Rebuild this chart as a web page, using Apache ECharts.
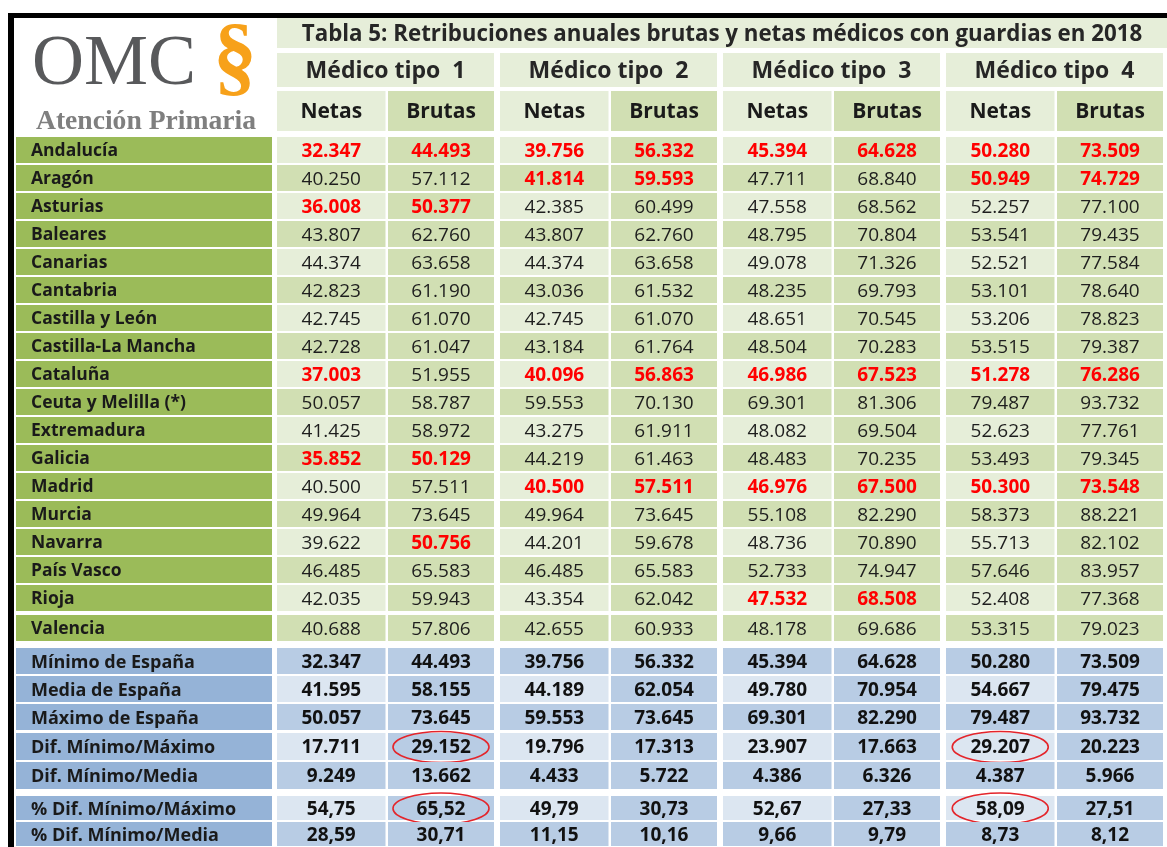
<!DOCTYPE html>
<html><head><meta charset="utf-8">
<script src="https://cdn.jsdelivr.net/npm/echarts@6/dist/echarts.min.js"></script>
<style>html,body{margin:0;padding:0;background:#fff}#chart{width:1167px;height:847px}</style>
</head><body><div id="chart"></div>
<script>
// ---------------- DATA ----------------
const titleText = 'Tabla 5: Retribuciones anuales brutas y netas médicos con guardias en 2018';
const groupLabels = ['Médico tipo  1', 'Médico tipo  2', 'Médico tipo  3', 'Médico tipo  4'];
const subLabels = ['Netas', 'Brutas', 'Netas', 'Brutas', 'Netas', 'Brutas', 'Netas', 'Brutas'];

const regions = ['Andalucía', 'Aragón', 'Asturias', 'Baleares', 'Canarias', 'Cantabria',
  'Castilla y León', 'Castilla-La Mancha', 'Cataluña', 'Ceuta y Melilla (*)', 'Extremadura',
  'Galicia', 'Madrid', 'Murcia', 'Navarra', 'País Vasco', 'Rioja', 'Valencia'];

const netas1 = [32347, 40250, 36008, 43807, 44374, 42823, 42745, 42728, 37003, 50057, 41425, 35852, 40500, 49964, 39622, 46485, 42035, 40688];
const brutas1 = [44493, 57112, 50377, 62760, 63658, 61190, 61070, 61047, 51955, 58787, 58972, 50129, 57511, 73645, 50756, 65583, 59943, 57806];
const netas2 = [39756, 41814, 42385, 43807, 44374, 43036, 42745, 43184, 40096, 59553, 43275, 44219, 40500, 49964, 44201, 46485, 43354, 42655];
const brutas2 = [56332, 59593, 60499, 62760, 63658, 61532, 61070, 61764, 56863, 70130, 61911, 61463, 57511, 73645, 59678, 65583, 62042, 60933];
const netas3 = [45394, 47711, 47558, 48795, 49078, 48235, 48651, 48504, 46986, 69301, 48082, 48483, 46976, 55108, 48736, 52733, 47532, 48178];
const brutas3 = [64628, 68840, 68562, 70804, 71326, 69793, 70545, 70283, 67523, 81306, 69504, 70235, 67500, 82290, 70890, 74947, 68508, 69686];
const netas4 = [50280, 50949, 52257, 53541, 52521, 53101, 53206, 53515, 51278, 79487, 52623, 53493, 50300, 58373, 55713, 57646, 52408, 53315];
const brutas4 = [73509, 74729, 77100, 79435, 77584, 78640, 78823, 79387, 76286, 93732, 77761, 79345, 73548, 88221, 82102, 83957, 77368, 79023];

// columns (0..7) shown in red, per region
const redColumns = {
  'Andalucía': [0, 1, 2, 3, 4, 5, 6, 7],
  'Aragón': [2, 3, 6, 7],
  'Asturias': [0, 1],
  'Cataluña': [0, 2, 3, 4, 5, 6, 7],
  'Galicia': [0, 1],
  'Madrid': [2, 3, 4, 5, 6, 7],
  'Navarra': [1],
  'Rioja': [4, 5]
};

const statLabels = ['Mínimo de España', 'Media de España', 'Máximo de España',
  'Dif. Mínimo/Máximo', 'Dif. Mínimo/Media', '% Dif. Mínimo/Máximo', '% Dif. Mínimo/Media'];
const statMin = [32347, 44493, 39756, 56332, 45394, 64628, 50280, 73509];
const statMean = [41595, 58155, 44189, 62054, 49780, 70954, 54667, 79475];
const statMax = [50057, 73645, 59553, 73645, 69301, 82290, 79487, 93732];
const statDifMinMax = [17711, 29152, 19796, 17313, 23907, 17663, 29207, 20223];
const statDifMinMean = [9249, 13662, 4433, 5722, 4386, 6326, 4387, 5966];
const statPctMinMax = [54.75, 65.52, 49.79, 30.73, 52.67, 27.33, 58.09, 27.51];
const statPctMinMean = [28.59, 30.71, 11.15, 10.16, 9.66, 9.79, 8.73, 8.12];
// circled cells: [stat row, column]
const circledCells = [[3, 1], [5, 1], [3, 6], [5, 6]];

// ---------------- BUILD ----------------
const regionCols = [netas1, brutas1, netas2, brutas2, netas3, brutas3, netas4, brutas4];
const statRows = [statMin, statMean, statMax, statDifMinMax, statDifMinMean, statPctMinMax, statPctMinMean];
const fmtInt = n => String(n).replace(/\B(?=(\d{3})+(?!\d))/g, '.');
const fmtPct = n => n.toFixed(2).replace('.', ',');

const C = {
  greenLab: '#9bbb59', greenLight: '#e6eed9', greenDark: '#d1dfb3',
  blueLab: '#95b3d7', blueLight: '#dce6f1', blueDark: '#b8cce4',
  red: '#ff0000', txt: '#1e1e1e'
};
const FONT = '"Open Sans"';

const DATA_LEFT = 275, DATA_W = 909.6, LAB_LEFT = 16, LAB_W = 258;

const grids = [], xAxes = [], yAxes = [], series = [];
function addGrid(left, width, top, height, xCats, yCats) {
  const i = grids.length;
  grids.push({ left, width, top, height, containLabel: false });
  xAxes.push({ type: 'category', gridIndex: i, data: xCats, show: false, boundaryGap: true });
  yAxes.push({ type: 'category', gridIndex: i, data: yCats, show: false, inverse: true, boundaryGap: true });
  return i;
}
function addCells(gi, items, o) {
  series.push({
    type: 'custom', xAxisIndex: gi, yAxisIndex: gi, silent: true, animation: false,
    data: items.map(d => [d.col, d.row]),
    encode: { x: 0, y: 1 },
    renderItem: function (params, api) {
      const it = items[params.dataIndex];
      const c = api.coord([api.value(0), api.value(1)]);
      const s = api.size([1, 1]);
      const odd = it.col % 2 === 1;
      const insL = o.insL != null ? o.insL : (odd ? 1.5 : 2);
      const insR = o.insR != null ? o.insR : (odd ? 4 : 1);
      const x0 = c[0] - s[0] / 2 + insL, x1 = c[0] + s[0] / 2 - insR;
      const y0 = c[1] - s[1] / 2 + o.insT, y1 = c[1] + s[1] / 2 - o.insB;
      const children = [
        { type: 'rect', shape: { x: x0, y: y0, width: x1 - x0, height: y1 - y0 }, style: { fill: it.fill } },
        { type: 'text', style: {
            text: it.text, x: o.align === 'left' ? x0 + o.padL : (x0 + x1) / 2, y: (y0 + y1) / 2 + 1.5,
            align: o.align || 'center', verticalAlign: 'middle', fill: it.color, font: it.font } }
      ];
      if (it.circle) {
        children.push({ type: 'ellipse', shape: { cx: (x0 + x1) / 2, cy: (y0 + y1) / 2 + 0.5, rx: 48, ry: 15.5 },
          style: { fill: 'none', stroke: '#e4252b', lineWidth: 1.6 } });
      }
      return { type: 'group', children };
    }
  });
}

// header: title
let g = addGrid(DATA_LEFT, DATA_W, 18, 30, ['t'], ['t']);
addCells(g, [{ col: 0, row: 0, text: titleText, fill: C.greenLight, color: '#262626', font: `bold 22.3px ${FONT}` }],
  { insT: 0, insB: 0, insL: 2, insR: 0 });
// header: groups
g = addGrid(DATA_LEFT, DATA_W, 52, 36, groupLabels, ['g']);
addCells(g, groupLabels.map((t, k) => ({ col: k, row: 0, text: t, fill: C.greenLight, color: '#262626', font: `bold 23px ${FONT}` })),
  { insT: 1, insB: 1, insL: 2, insR: 4 });
// header: Netas/Brutas
g = addGrid(DATA_LEFT, DATA_W, 90, 42, subLabels, ['s']);
addCells(g, subLabels.map((t, k) => ({ col: k, row: 0, text: t, fill: k % 2 ? C.greenDark : C.greenLight, color: '#1a1a1a', font: `bold 21px ${FONT}` })),
  { insT: 1, insB: 1 });

// region rows
function regionSection(top, height, idxs) {
  const names = idxs.map(i => regions[i]);
  const gl = addGrid(LAB_LEFT, LAB_W, top, height, ['l'], names);
  addCells(gl, idxs.map((i, r) => ({ col: 0, row: r, text: regions[i], fill: C.greenLab, color: '#1a1a1a', font: `bold 17.5px ${FONT}` })),
    { insT: 1, insB: 1, insL: 0, insR: 2, align: 'left', padL: 15 });
  const gd = addGrid(DATA_LEFT, DATA_W, top, height, subLabels.map((s, k) => s + k), names);
  const items = [];
  idxs.forEach((i, r) => {
    const reds = redColumns[regions[i]] || [];
    regionCols.forEach((col, k) => {
      const isRed = reds.indexOf(k) >= 0;
      items.push({ col: k, row: r, text: fmtInt(col[i]),
        fill: (i % 2 === 0 && k % 2 === 0) ? C.greenLight : C.greenDark,
        color: isRed ? C.red : C.txt, font: `${isRed ? 'bold ' : ''}19px ${FONT}` });
    });
  });
  addCells(gd, items, { insT: 1, insB: 1 });
}
regionSection(136, 476, regions.slice(0, 17).map((_, i) => i));
regionSection(614, 28, [17]);

// stat rows
function statSection(top, height, idxs) {
  const names = idxs.map(i => statLabels[i]);
  const gl = addGrid(LAB_LEFT, LAB_W, top, height, ['l'], names);
  addCells(gl, idxs.map((i, r) => ({ col: 0, row: r, text: statLabels[i], fill: C.blueLab, color: '#1a1a1a', font: `bold 18px ${FONT}` })),
    { insT: 1, insB: 1, insL: 0, insR: 2, align: 'left', padL: 15 });
  const gd = addGrid(DATA_LEFT, DATA_W, top, height, subLabels.map((s, k) => s + k), names);
  const items = [];
  idxs.forEach((i, r) => {
    statRows[i].forEach((v, k) => {
      items.push({ col: k, row: r, text: i >= 5 ? fmtPct(v) : fmtInt(v),
        fill: (i % 2 === 1 && k % 2 === 0) ? C.blueLight : C.blueDark,
        color: '#111', font: `bold 19px ${FONT}`,
        circle: circledCells.some(cc => cc[0] === i && cc[1] === k) });
    });
  });
  addCells(gd, items, { insT: 1, insB: 1 });
}
statSection(647, 84, [0, 1, 2]);
statSection(732, 58, [3, 4]);
statSection(795, 56, [5, 6]);

const option = {
  backgroundColor: '#fff',
  animation: false,
  grid: grids, xAxis: xAxes, yAxis: yAxes, series,
  graphic: [
    { type: 'rect', shape: { x: 8, y: 13, width: 1170, height: 5 }, style: { fill: '#000' }, z: 10 },
    { type: 'rect', shape: { x: 8, y: 13, width: 6, height: 840 }, style: { fill: '#000' }, z: 10 },
    { type: 'text', style: { text: 'OMC', x: 32, y: 65, verticalAlign: 'middle', font: '72px "Liberation Serif"', fill: '#58595b' } },
    { type: 'text', style: { text: '§', x: 235, y: 62, align: 'center', verticalAlign: 'middle', font: 'bold 88px "Liberation Serif"', fill: '#f7a11a' } },
    { type: 'text', style: { text: 'Atención Primaria', x: 36, y: 122, verticalAlign: 'middle', font: 'bold 27.6px "Liberation Serif"', fill: '#7f7f7f' } }
  ]
};
const chart = echarts.init(document.getElementById('chart'), null, { renderer: 'canvas' });
chart.setOption(option);
</script></body></html>
